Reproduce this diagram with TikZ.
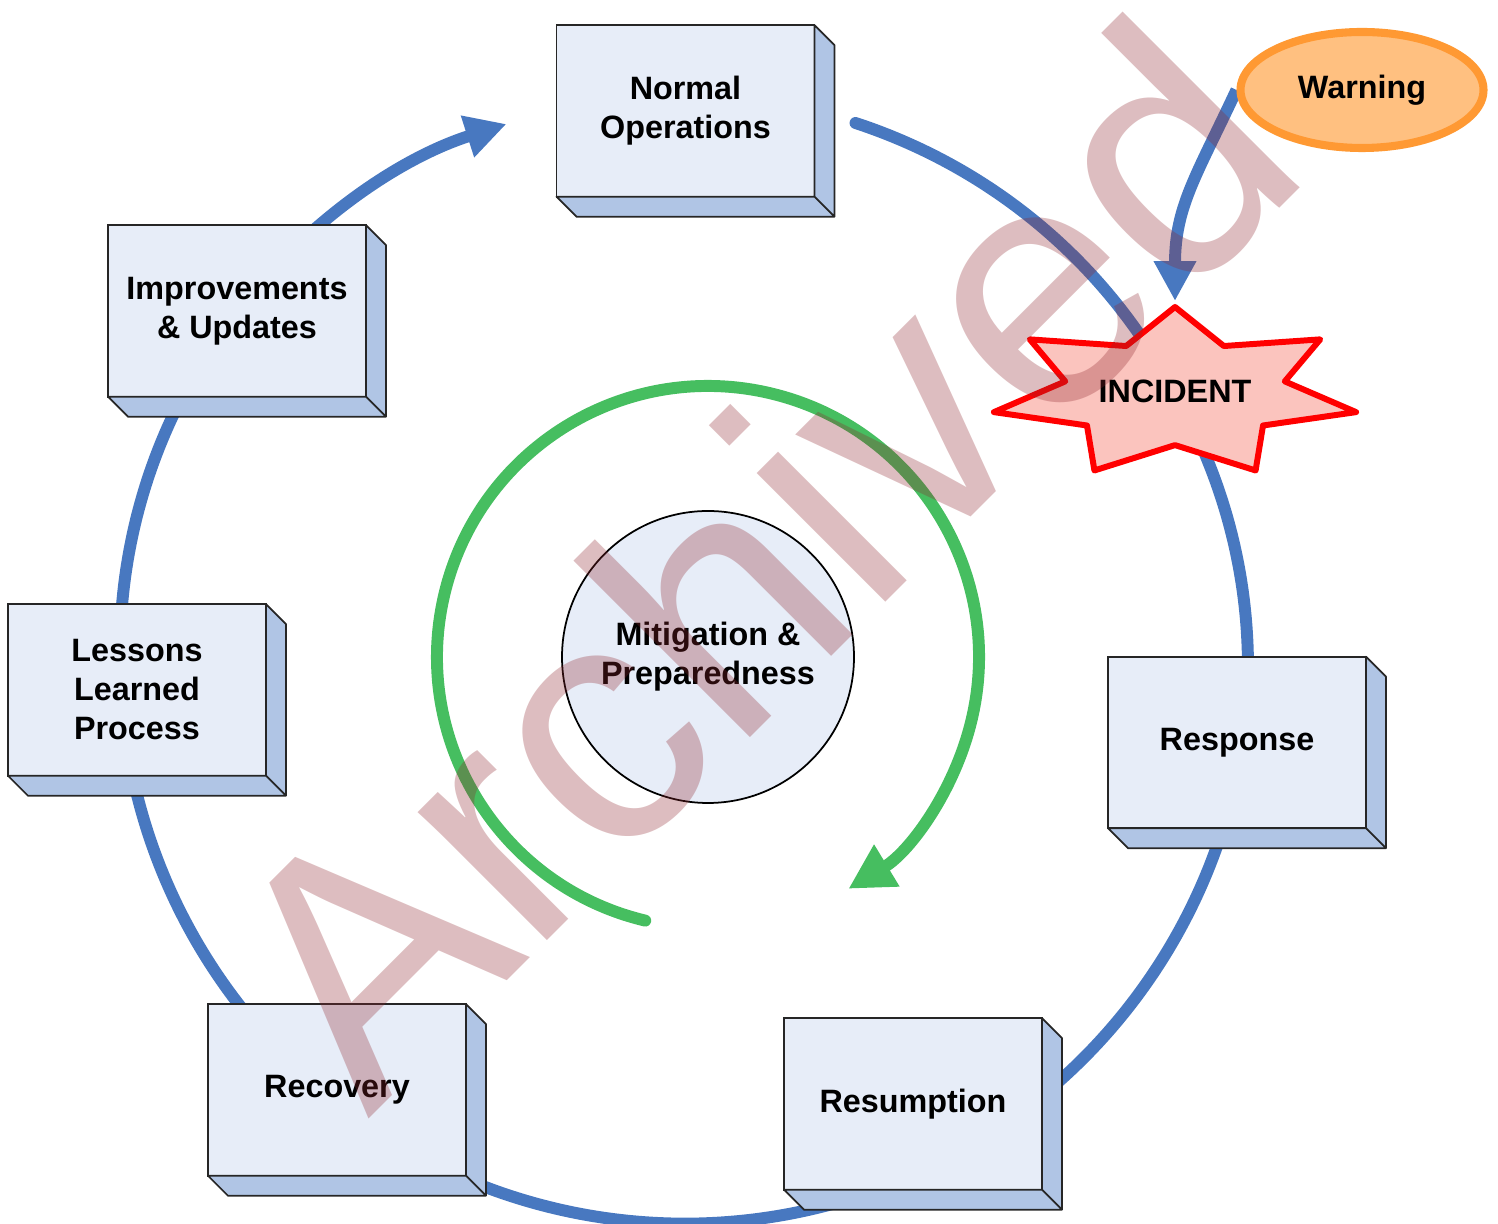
\documentclass[tikz,border=0pt]{standalone}
\usepackage{fontspec}
\setmainfont{Liberation Sans}
\usetikzlibrary{arrows.meta,shapes.geometric}
\definecolor{faceblue}{RGB}{231,237,248}
\definecolor{sideblue}{RGB}{176,197,229}
\definecolor{ringblue}{RGB}{72,120,192}
\definecolor{loopgreen}{RGB}{70,190,96}
\definecolor{warnfill}{RGB}{255,192,128}
\definecolor{warnline}{RGB}{255,153,51}
\definecolor{burstfill}{RGB}{251,196,190}
\definecolor{stampred}{RGB}{142,38,45}
\pgfdeclarelayer{bg}
\pgfsetlayers{bg,main}

\begin{document}
\begin{tikzpicture}[every node/.style={font=\fontsize{9.2}{11.1}\selectfont\bfseries},
  box/.style={draw=black!85,line width=0.5pt,fill=faceblue,minimum width=2.58cm,minimum height=1.715cm,align=center,outer sep=0pt},
  side/.style={draw=black!85,line width=0.5pt,fill=sideblue,line join=round},
  ring/.style={line width=3.4pt,ringblue,looseness=0.89},
  ringtip/.style={-{Triangle[length=#1,width=#1]}},
  loopline/.style={line width=3.4pt,loopgreen,line cap=round,-{Triangle[length=4.5mm,width=4.6mm]}}]
\useasboundingbox (0,0) rectangle (14.98,12.24);

\node[box] (normal) at (6.855,11.13) {Normal\\Operations};
\node[box] (improve) at (2.37,9.13) {Improvements\\\& Updates};
\node[box] (lessons) at (1.37,5.34) {Lessons\\Learned\\Process};
\node[box] (response) at (12.37,4.815) {Response};
\node[box] (resume) at (9.13,1.20) {Resumption};
\node[box] (recovery) at (3.37,1.34) {Recovery};
\foreach \n in {normal,improve,lessons,response,resume,recovery}
  \draw[side] (\n.north east) -- ++(0.2,-0.2) -- ([shift={(0.2,-0.2)}]\n.south east)
    -- ([shift={(0.2,-0.2)}]\n.south west) -- (\n.south west) -- (\n.south east) -- cycle
    (\n.south east) -- ++(0.2,-0.2);

\node[circle,draw=black,line width=0.5pt,fill=faceblue,minimum size=2.92cm,align=center] (mitig) at (7.08,5.67) {Mitigation \&\\Preparedness};

\begin{scope}[shift={(11.75,8.31)},xscale=2.16]
\node[star,star points=7,star point ratio=1.65,minimum size=1.72cm,inner sep=0pt,draw=red,line width=1.7pt,line join=round,fill=burstfill,transform shape] (incident) {};
\end{scope}
\node (incidentlabel) at (11.75,8.33) {INCIDENT};

\node[ellipse,draw=warnline,line width=2.3pt,fill=warnfill,minimum width=2.43cm,minimum height=1.16cm] (warning) at (13.62,11.34) {Warning};

\coordinate (normalout) at ([shift={(0.41,-0.12)}]normal.east);
\coordinate (normalin) at ([shift={(-0.5,-0.13)}]normal.west);
\coordinate (responsepin) at ([shift={(0.06,0)}]response.center);
\coordinate (resumepin) at ([shift={(0.96,-0.17)}]resume.center);
\coordinate (recoverypin) at ([shift={(-0.065,-0.08)}]recovery.center);
\coordinate (lessonspin) at ([shift={(-0.16,0.02)}]lessons.center);

\begin{pgfonlayer}{bg}
\draw[ring,line cap=round] (normalout) to[bend left=22] (incident.center);
\draw[ring] (incident.center) to[bend left=18.5] (responsepin);
\draw[ring] (responsepin) to[bend left=23] (resumepin);
\draw[ring,looseness=0.95] (resumepin) to[bend left=37] (recoverypin);
\draw[ring] (recoverypin) to[bend left=24] (lessonspin);
\draw[ring] (lessonspin) to[bend left=20.5] (improve.center);
\draw[ring,ringtip=4.1mm] (improve.center) to[bend left=17] (normalin);
\draw[ring,ringtip=4mm,looseness=1.1] (warning.west) to[out=245,in=90] (incident.north);
\end{pgfonlayer}

\draw[loopline] ([shift={(256.6:2.71)}]mitig.center) arc[start angle=256.6,end angle=-58.8,radius=2.71];

\node[rotate=45,anchor=base west,inner sep=0pt,font=\fontsize{98}{98}\selectfont,text=stampred,text opacity=0.3] (stamp) at (3.68,1.04) {Archived};
\end{tikzpicture}
\end{document}
